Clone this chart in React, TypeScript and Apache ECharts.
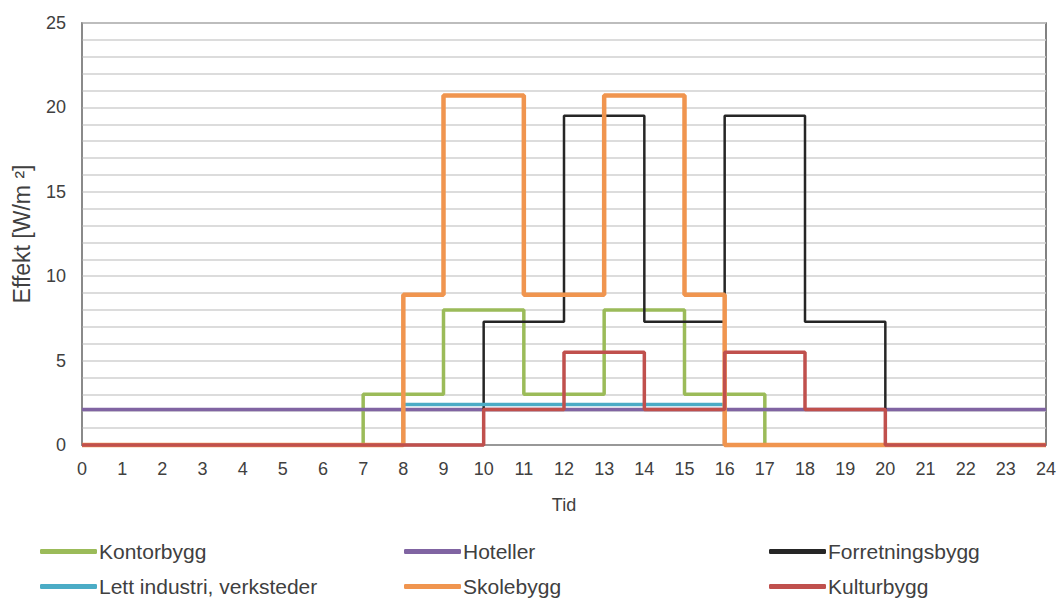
import React, { useEffect, useRef } from "react";
import * as echarts from "echarts";

// Hourly power profiles per building type; each value holds from that hour to the next,
// the last entry closes the step at 24.
const HOURS = [0, 1, 2, 3, 4, 5, 6, 7, 8, 9, 10, 11, 12, 13, 14, 15, 16, 17, 18, 19, 20, 21, 22, 23, 24];

const kontorbygg = [0, 0, 0, 0, 0, 0, 0, 3, 3, 8, 8, 3, 3, 8, 8, 3, 3, 0, 0, 0, 0, 0, 0, 0, 0];
const hoteller = [2.1, 2.1, 2.1, 2.1, 2.1, 2.1, 2.1, 2.1, 2.1, 2.1, 2.1, 2.1, 2.1, 2.1, 2.1, 2.1, 2.1, 2.1, 2.1, 2.1, 2.1, 2.1, 2.1, 2.1, 2.1];
const forretningsbygg = [0, 0, 0, 0, 0, 0, 0, 0, 0, 0, 7.3, 7.3, 19.5, 19.5, 7.3, 7.3, 19.5, 19.5, 7.3, 7.3, 0, 0, 0, 0, 0];
const lettIndustri = [0, 0, 0, 0, 0, 0, 0, 0, 2.4, 2.4, 2.4, 2.4, 2.4, 2.4, 2.4, 2.4, 0, 0, 0, 0, 0, 0, 0, 0, 0];
const skolebygg = [0, 0, 0, 0, 0, 0, 0, 0, 8.9, 20.7, 20.7, 8.9, 8.9, 20.7, 20.7, 8.9, 0, 0, 0, 0, 0, 0, 0, 0, 0];
const kulturbygg = [0, 0, 0, 0, 0, 0, 0, 0, 0, 0, 2.1, 2.1, 5.5, 5.5, 2.1, 2.1, 5.5, 5.5, 2.1, 2.1, 0, 0, 0, 0, 0];

const SERIES = [
  { name: "Kontorbygg", values: kontorbygg, color: "#9BBB59", width: 3.5 },
  { name: "Hoteller", values: hoteller, color: "#8064A2", width: 3.5 },
  { name: "Forretningsbygg", values: forretningsbygg, color: "#262626", width: 2.5 },
  { name: "Lett industri, verksteder", values: lettIndustri, color: "#4BACC6", width: 3.5 },
  { name: "Skolebygg", values: skolebygg, color: "#F0954F", width: 4.5 },
  { name: "Kulturbygg", values: kulturbygg, color: "#C0504D", width: 3.5 },
];

// Legend placement: one entry per series, three columns by two rows
const LEGEND_SLOTS = [
  { name: "Kontorbygg", left: 40, top: 541 },
  { name: "Hoteller", left: 404, top: 541 },
  { name: "Forretningsbygg", left: 769, top: 541 },
  { name: "Lett industri, verksteder", left: 40, top: 576 },
  { name: "Skolebygg", left: 404, top: 576 },
  { name: "Kulturbygg", left: 769, top: 576 },
];

const FONT = "Liberation Sans, Arial, sans-serif";
const TEXT = "#404040";

export default function App() {
  const ref = useRef<HTMLDivElement>(null);

  useEffect(() => {
    if (!ref.current) return;
    const chart = echarts.init(ref.current, undefined, { renderer: "svg" });
    chart.setOption({
      animation: false,
      backgroundColor: "#ffffff",
      textStyle: { fontFamily: FONT },
      grid: {
        left: 82,
        right: 16,
        top: 23,
        bottom: 154,
        outerBoundsMode: "none",
        containLabel: false,
        show: true,
        borderColor: "#595959",
        borderWidth: 1.5,
      },
      xAxis: {
        type: "value",
        min: 0,
        max: 24,
        interval: 1,
        name: "Tid",
        nameLocation: "middle",
        nameGap: 51,
        nameTextStyle: { fontSize: 18, color: TEXT, fontFamily: FONT },
        axisLine: { show: true, lineStyle: { color: "#8c8c8c", width: 1.5 } },
        axisTick: { show: false },
        splitLine: { show: false },
        axisLabel: { fontSize: 18, color: TEXT, margin: 15, fontFamily: FONT },
      },
      yAxis: {
        type: "value",
        min: 0,
        max: 25,
        interval: 1,
        name: "Effekt [W/m ²]",
        nameLocation: "middle",
        nameGap: 49,
        nameTextStyle: { fontSize: 23, color: TEXT, fontFamily: FONT },
        axisLine: { show: true, lineStyle: { color: "#8c8c8c", width: 1.5 } },
        axisTick: { show: false },
        splitLine: { show: true, lineStyle: { color: "#d0d0d0", width: 1.5 } },
        axisLabel: {
          fontSize: 18,
          color: TEXT,
          margin: 16,
          fontFamily: FONT,
          formatter: (v: number) => (v % 5 === 0 ? String(v) : ""),
        },
      },
      legend: LEGEND_SLOTS.map((slot) => ({
        left: slot.left,
        top: slot.top,
        padding: 0,
        itemWidth: 57,
        itemHeight: 5,
        icon: "roundRect",
        data: [slot.name],
        selectedMode: false,
        textStyle: { fontSize: 21, color: TEXT, fontFamily: FONT, padding: [0, 0, 0, -3] },
      })),
      series: SERIES.map((s) => ({
        name: s.name,
        type: "line",
        step: "end",
        showSymbol: false,
        clip: false,
        color: s.color,
        lineStyle: { color: s.color, width: s.width },
        data: HOURS.map((h, i) => [h, s.values[i]]),
      })),
    });
    return () => chart.dispose();
  }, []);

  return (
    <div
      ref={ref}
      style={{ position: "absolute", left: 0, top: 0, width: 1062, height: 599 }}
    />
  );
}
